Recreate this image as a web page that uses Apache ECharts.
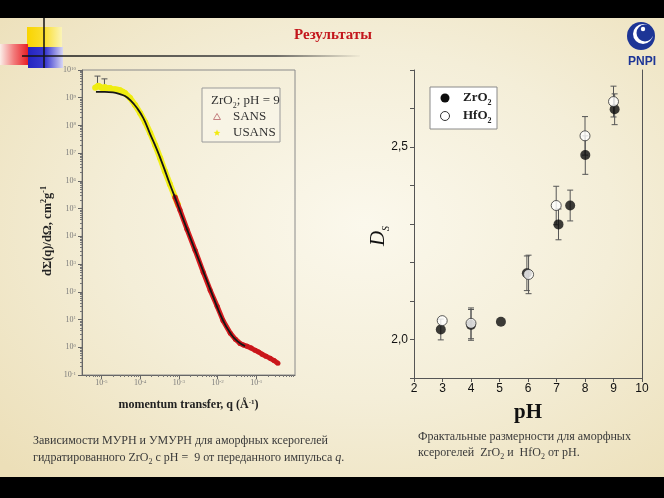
<!DOCTYPE html>
<html><head><meta charset="utf-8">
<script src="https://cdn.jsdelivr.net/npm/echarts@6/dist/echarts.min.js"></script>
<style>
html,body{margin:0;padding:0;background:#000;}
#c{position:absolute;left:0;top:0;width:664px;height:498px;
background: radial-gradient(ellipse 75% 70% at 55% 45%, #fbf8ec 0%, #f4eed8 50%, #ecdfb8 100%);}
</style></head><body><div id="c"></div>
<script>
// ---------- Left chart: log10(q, Å^-1) vs log10(dΣ/dΩ) ----------
const usansQ = [-5.16,-5.08,-5.03,-4.96,-4.91,-4.84,-4.78,-4.71,-4.65,-4.58,-4.52,-4.45,-4.39,-4.26,-4.13,-4.00,-3.87,-3.74,-3.61,-3.48,-3.36,-3.23,-3.10,-3.02];
const usansI = [9.36,9.43,9.40,9.33,9.39,9.34,9.35,9.30,9.31,9.29,9.27,9.22,9.17,8.99,8.74,8.45,8.12,7.73,7.29,6.82,6.35,5.88,5.42,5.13];
const usansErrQ = [-5.10,-4.92];
const usansErrHi = [9.78,9.68];
const sansQ = [-3.10,-2.97,-2.79,-2.58,-2.37,-2.19,-2.01,-1.86,-1.67,-1.54,-1.42,-1.33,-1.24,-1.13,-1.03,-0.94,-0.85,-0.75,-0.64,-0.54,-0.44];
const sansI = [5.42,4.95,4.26,3.50,2.71,2.06,1.48,0.97,0.51,0.29,0.14,0.08,0.04,-0.03,-0.11,-0.17,-0.25,-0.32,-0.40,-0.48,-0.58];
const fitQ = [-5.14,-4.91,-4.70,-4.52,-4.39,-4.26,-4.08,-3.92,-3.74,-3.56,-3.41,-3.23,-3.05,-2.79,-2.45,-2.11,-1.86,-1.67,-1.49,-1.29];
const fitI = [9.21,9.21,9.19,9.13,9.06,8.92,8.63,8.27,7.69,7.11,6.57,5.88,5.23,4.26,3.03,1.81,0.97,0.51,0.22,0.04];
const leftXTicks = [-5,-4,-3,-2,-1];

// ---------- Right chart: fractal dimension vs pH ----------
const phZr = [2.94,4.0,5.05,5.96,7.07,7.48,8.01,9.04];
const dsZr = [2.026,2.038,2.046,2.172,2.299,2.348,2.479,2.598];
const errZr = [0.027,0.04,0,0.045,0.04,0.04,0.05,0.04];
const phHf = [2.99,4.0,6.02,6.99,8.0,9.0];
const dsHf = [2.049,2.042,2.169,2.348,2.529,2.618];
const errHf = [0,0.04,0.05,0.05,0.05,0.04];
const rightYLabels = {'2':'2,0','2.5':'2,5'};

// minor log tick positions
function minorTicks(lo, hi){
  const out=[];
  for(let d=Math.floor(lo)-1; d<=Math.ceil(hi); d++){
    for(let k=2;k<=9;k++){ const v=d+Math.log10(k); if(v>lo && v<hi) out.push(v); }
  }
  return out;
}
const zip = (a,b)=>a.map((v,i)=>[v,b[i]]);
const powFmt = v => '{b|10}{e|' + Math.round(v) + '}';
const powRich = {b:{fontSize:8,color:'#7a7a7a',fontFamily:'Liberation Serif'}, e:{fontSize:5,color:'#7a7a7a',verticalAlign:'top',fontFamily:'Liberation Serif'}};

function errItem(params, api){
  const x = api.value(0), lo = api.value(1), hi = api.value(2);
  const p1 = api.coord([x, lo]), p2 = api.coord([x, hi]);
  const st = {stroke:'#555', lineWidth:1};
  return {type:'group', children:[
    {type:'line', shape:{x1:p1[0],y1:p1[1],x2:p2[0],y2:p2[1]}, style:st},
    {type:'line', shape:{x1:p1[0]-3,y1:p1[1],x2:p1[0]+3,y2:p1[1]}, style:st},
    {type:'line', shape:{x1:p2[0]-3,y1:p2[1],x2:p2[0]+3,y2:p2[1]}, style:st}
  ]};
}
const errData = (xs, ys, es) => xs.map((x,i)=>[x, ys[i]-es[i], ys[i]+es[i]]).filter((d,i)=>es[i]>0);

function starPts(cx, cy, r, r0){
  const p=[]; for(let i=0;i<10;i++){ const a=-Math.PI/2+i*Math.PI/5; const rr=i%2?r0:r; p.push([cx+rr*Math.cos(a), cy+rr*Math.sin(a)]); } return p;
}

const serif = '"Liberation Serif", "Times New Roman", serif';
const sans = '"Liberation Sans", Arial, sans-serif';
const LG = (stops) => new echarts.graphic.LinearGradient(0,0,1,0,stops.map((c,i)=>({offset:i/(stops.length-1),color:c})));

const chart = echarts.init(document.getElementById('c'), null, {renderer:'canvas'});
chart.setOption({
  backgroundColor: 'transparent',
  animation: false,
  grid: [
    {left:82, top:70, width:213, height:305, show:true, borderColor:'#8a8a8a', borderWidth:1, backgroundColor:'transparent'},
    {left:414, top:70, width:228, height:308},
    {left:82, top:70, width:213, height:305}
  ],
  xAxis: [
    {gridIndex:0, type:'value', min:-5.5, max:0, position:'bottom',
     axisLine:{show:true, onZero:false, lineStyle:{color:'#666'}},
     axisTick:{customValues:leftXTicks, length:4, lineStyle:{color:'#666'}},
     axisLabel:{customValues:leftXTicks, formatter:powFmt, rich:powRich, margin:4},
     splitLine:{show:false},
     name:'momentum transfer, q ({a|Å}{s|-1})', nameLocation:'middle', nameGap:24,
     nameTextStyle:{fontFamily:serif, fontWeight:'bold', fontSize:12, color:'#222',
       rich:{a:{fontFamily:serif, fontWeight:'bold', fontSize:12, color:'#222'}, s:{fontFamily:serif, fontWeight:'bold', fontSize:7, color:'#222', verticalAlign:'top'}}}},
    {gridIndex:1, type:'value', min:2, max:10, interval:1, position:'bottom',
     axisLine:{show:true, onZero:false, lineStyle:{color:'#555', width:1}},
     axisTick:{length:4, lineStyle:{color:'#555'}},
     axisLabel:{fontFamily:sans, fontSize:12, color:'#111', margin:5},
     splitLine:{show:false},
     name:'pH', nameLocation:'middle', nameGap:24,
     nameTextStyle:{fontFamily:serif, fontWeight:'bold', fontSize:21, color:'#111'}},
    {gridIndex:2, type:'value', min:-5.5, max:0, position:'bottom',
     axisLine:{show:false, onZero:false},
     axisTick:{customValues:minorTicks(-5.5,0), length:2, lineStyle:{color:'#777'}},
     axisLabel:{show:false}, splitLine:{show:false}}
  ],
  yAxis: [
    {gridIndex:0, type:'value', min:-1, max:10, interval:1, position:'left',
     axisLine:{show:true, onZero:false, lineStyle:{color:'#666'}},
     axisTick:{length:4, lineStyle:{color:'#666'}},
     axisLabel:{formatter:powFmt, rich:powRich, margin:6},
     splitLine:{show:false}},
    {gridIndex:1, type:'value', min:1.9, max:2.7, interval:0.1, position:'left',
     axisLine:{show:true, onZero:false, lineStyle:{color:'#555'}},
     axisTick:{length:4, lineStyle:{color:'#555'}},
     axisLabel:{fontFamily:sans, fontSize:12, color:'#111', margin:6,
       formatter: v => { for (const k in rightYLabels) if (Math.abs(v-parseFloat(k))<1e-6) return rightYLabels[k]; return ''; }},
     splitLine:{show:false}},
    {gridIndex:1, type:'value', min:1.9, max:2.7, position:'right',
     axisLine:{show:true, onZero:false, lineStyle:{color:'#555'}},
     axisTick:{show:false}, axisLabel:{show:false}, splitLine:{show:false}},
    {gridIndex:2, type:'value', min:-1, max:10, position:'left',
     axisLine:{show:false, onZero:false},
     axisTick:{customValues:minorTicks(-1,10), length:2, lineStyle:{color:'#777'}},
     axisLabel:{show:false}, splitLine:{show:false}}
  ],
  series: [
    {name:'USANS', type:'line', xAxisIndex:0, yAxisIndex:0, data:zip(usansQ,usansI), z:2,
     lineStyle:{color:'#f2ef1a', width:6}, symbol:'circle', symbolSize:6, itemStyle:{color:'#efec10'}},
    {name:'USANSerr', type:'custom', xAxisIndex:0, yAxisIndex:0, z:2,
     data:usansErrQ.map((q,i)=>[q, usansI[i*3]+0.05, usansErrHi[i]]), encode:{x:0,y:[1,2]}, renderItem:errItem},
    {name:'SANS', type:'line', xAxisIndex:0, yAxisIndex:0, data:zip(sansQ,sansI), z:3,
     lineStyle:{color:'#d81d20', width:5}, symbol:'circle', symbolSize:5, itemStyle:{color:'#c8161a'}},
    {name:'fit', type:'line', xAxisIndex:0, yAxisIndex:0, data:zip(fitQ,fitI), z:4, smooth:true,
     lineStyle:{color:'#151515', width:1.8}, symbol:'none'},
    {name:'errZr', type:'custom', xAxisIndex:1, yAxisIndex:1, z:3, data:errData(phZr,dsZr,errZr), encode:{x:0,y:[1,2]}, renderItem:errItem},
    {name:'errHf', type:'custom', xAxisIndex:1, yAxisIndex:1, z:3, data:errData(phHf,dsHf,errHf), encode:{x:0,y:[1,2]}, renderItem:errItem},
    {name:'ZrO2', type:'scatter', xAxisIndex:1, yAxisIndex:1, data:zip(phZr,dsZr), z:4,
     symbol:'circle', symbolSize:10, itemStyle:{color:'#0d0d0d'}},
    {name:'HfO2', type:'scatter', xAxisIndex:1, yAxisIndex:1, data:zip(phHf,dsHf), z:5,
     symbol:'circle', symbolSize:10, itemStyle:{color:'#ffffff', borderColor:'#333', borderWidth:1}}
  ],
  graphic: {elements: [
    {type:'rect', shape:{x:0,y:0,width:664,height:18}, style:{fill:'#000'}, z:100},
    {type:'rect', shape:{x:0,y:477,width:664,height:21}, style:{fill:'#000'}, z:100},
    // decorations
    {type:'rect', shape:{x:27,y:27,width:35,height:20}, style:{fill:LG(['#f9d400','#fadf30','#fbf4b8'])}},
    {type:'rect', shape:{x:0,y:44,width:28,height:21}, style:{fill:LG(['#fbeee8','#f27a7a','#e81e25'])}},
    {type:'rect', shape:{x:28,y:47,width:35,height:21}, style:{fill:LG(['#2424c0','#3a3ad0','#d8d6f4'])}},
    {type:'line', shape:{x1:44,y1:18,x2:44,y2:68}, style:{stroke:'#111', lineWidth:1.5}},
    {type:'line', shape:{x1:22,y1:56,x2:360,y2:56}, style:{stroke:LG(['#111','#222','#333','#444','rgba(60,60,60,0)']), lineWidth:1.5}},
    {type:'text', style:{text:'Результаты', x:333, y:35, font:'bold 15px '+serif, fill:'#c3161c', textAlign:'center', textVerticalAlign:'middle'}},
    // logo
    {type:'circle', shape:{cx:641,cy:36,r:14}, style:{fill:'#1d3596'}},
    {type:'circle', shape:{cx:643,cy:34,r:10}, style:{fill:'#ffffff'}},
    {type:'circle', shape:{cx:645,cy:33,r:8.5}, style:{fill:'#1d3596'}},
    {type:'circle', shape:{cx:643,cy:29,r:2.2}, style:{fill:'#ffffff'}},
    {type:'text', style:{text:'PNPI', x:642, y:62, font:'bold 12px '+sans, fill:'#1d3596', textAlign:'center', textVerticalAlign:'middle'}},
    // left y-axis title
    {type:'text', x:48, y:231, rotation:Math.PI/2, style:{text:'{a|dΣ(q)/dΩ, cm}{s|2}{a|g}{s|-1}', x:0, y:0, textAlign:'center', textVerticalAlign:'middle',
      rich:{a:{fontFamily:serif, fontWeight:'bold', fontSize:12.5, fill:'#222', lineHeight:16}, s:{fontFamily:serif, fontWeight:'bold', fontSize:8, fill:'#222', verticalAlign:'top'}}}},
    // left legend
    {type:'rect', shape:{x:202,y:88,width:78,height:54}, style:{fill:'rgba(250,247,235,0.6)', stroke:'#9a9a9a', lineWidth:1}},
    {type:'text', style:{text:'{n|ZrO}{s|2}{n|; pH = 9}', x:211, y:101, textAlign:'left', textVerticalAlign:'middle',
      rich:{n:{fontFamily:serif, fontSize:13, fill:'#333', lineHeight:18}, s:{fontFamily:serif, fontSize:8, fill:'#333', verticalAlign:'bottom'}}}},
    {type:'polygon', shape:{points:[[217,113.5],[213.5,119.5],[220.5,119.5]]}, style:{fill:'none', stroke:'#c48080', lineWidth:1}},
    {type:'text', style:{text:'SANS', x:233, y:117, font:'13px '+serif, fill:'#333', textAlign:'left', textVerticalAlign:'middle'}},
    {type:'polygon', shape:{points:starPts(217,133,3.5,1.6)}, style:{fill:'#f2ea10'}},
    {type:'text', style:{text:'USANS', x:233, y:133, font:'13px '+serif, fill:'#333', textAlign:'left', textVerticalAlign:'middle'}},
    // right legend
    {type:'rect', shape:{x:430,y:87,width:67,height:42}, style:{fill:'#ffffff', stroke:'#8a8a8a', lineWidth:1}},
    {type:'circle', shape:{cx:445,cy:98,r:4.5}, style:{fill:'#0d0d0d'}},
    {type:'text', style:{text:'{n|ZrO}{s|2}', x:463, y:98, textAlign:'left', textVerticalAlign:'middle',
      rich:{n:{fontFamily:serif, fontWeight:'bold', fontSize:13, fill:'#222', lineHeight:18}, s:{fontFamily:serif, fontWeight:'bold', fontSize:8, fill:'#222', verticalAlign:'bottom'}}}},
    {type:'circle', shape:{cx:445,cy:116,r:4.5}, style:{fill:'#fff', stroke:'#333', lineWidth:1}},
    {type:'text', style:{text:'{n|HfO}{s|2}', x:463, y:116, textAlign:'left', textVerticalAlign:'middle',
      rich:{n:{fontFamily:serif, fontWeight:'bold', fontSize:13, fill:'#222', lineHeight:18}, s:{fontFamily:serif, fontWeight:'bold', fontSize:8, fill:'#222', verticalAlign:'bottom'}}}},
    // D_S label
    {type:'text', x:378, y:236, rotation:Math.PI/2, style:{text:'{d|D}{s|S}', x:0, y:0, textAlign:'center', textVerticalAlign:'middle',
      rich:{d:{fontFamily:serif, fontStyle:'italic', fontSize:21, fill:'#111', lineHeight:26}, s:{fontFamily:serif, fontStyle:'italic', fontSize:10, fill:'#111', verticalAlign:'bottom'}}}},
    // captions
    {type:'text', style:{text:'Зависимости МУРН и УМУРН для аморфных ксерогелей', x:33, y:441, font:'12px '+serif, fill:'#3a3a3a', textAlign:'left', textVerticalAlign:'middle'}},
    {type:'text', style:{text:'{n|гидратированного ZrO}{s|2}{n| с pH =  9 от переданного импульса }{i|q}{n|.}', x:33, y:458, textAlign:'left', textVerticalAlign:'middle',
      rich:{n:{fontFamily:serif, fontSize:12, fill:'#3a3a3a', lineHeight:16}, i:{fontFamily:serif, fontStyle:'italic', fontSize:12, fill:'#3a3a3a', lineHeight:16}, s:{fontFamily:serif, fontSize:8, fill:'#3a3a3a', verticalAlign:'bottom'}}}},
    {type:'text', style:{text:'Фрактальные размерности для аморфных', x:418, y:437, font:'12px '+serif, fill:'#3a3a3a', textAlign:'left', textVerticalAlign:'middle'}},
    {type:'text', style:{text:'{n|ксерогелей  ZrO}{s|2}{n| и  HfO}{s|2}{n| от pH.}', x:418, y:453, textAlign:'left', textVerticalAlign:'middle',
      rich:{n:{fontFamily:serif, fontSize:12, fill:'#3a3a3a', lineHeight:16}, s:{fontFamily:serif, fontSize:8, fill:'#3a3a3a', verticalAlign:'bottom'}}}}
  ]}
});
</script></body></html>
